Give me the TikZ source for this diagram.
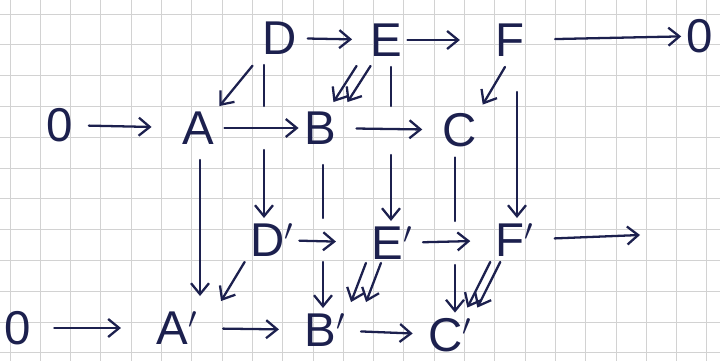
\documentclass[tikz,border=0pt]{standalone}
\usepackage{fontspec}
\setmainfont{Liberation Sans}
\usepackage{xcolor}
\usetikzlibrary{arrows.meta, positioning, calc}
\definecolor{ink}{RGB}{28,32,78}

\begin{document}
\begin{tikzpicture}[
    x=0.02cm, y=-0.02cm,
    obj/.style={text=ink, font=\fontsize{27}{29}\selectfont, inner sep=3pt},
    arr/.style={draw=ink, line width=1.3pt, line cap=round, -{Straight Barb[length=2.2mm, width=3.6mm]}},
    seg/.style={draw=ink, line width=1.3pt, line cap=round},
    gridline/.style={draw=gray!35, line width=0.5pt},
  ]
    % Squared paper
    \useasboundingbox (0,0) rectangle (720,361);
    \fill[white] (0,0) rectangle (720,361);
    \foreach \k in {0,...,23}
      \draw[gridline] ({10+30.3*\k},0) -- ({10+30.3*\k},361);
    \foreach \k in {0,...,11}
      \draw[gridline] (0,{14+30.8*\k}) -- (720,{14+30.8*\k});

    % Back row, top
    \node[obj] (D) at (280,38) {D};
    \node[obj] (E) at (386,40) {E};
    \node[obj] (F) at (510,40) {F};
    \node[obj] (z1) at (700,36) {0};
    \draw[arr, shorten <=0.1cm, shorten >=0.25cm] (D) -- (E);
    \draw[arr, shorten >=0.6cm] (E) -- (F);
    \draw[arr, shorten <=0.5cm] (F) -- (z1);

    % Front row, top
    \node[obj] (z2) at (60,125) {0};
    \node[obj] (A) at (198,128) {A};
    \node[obj] (B) at (320,128) {B};
    \node[obj] (C) at (460,130) {C};
    \draw[arr, shorten <=0.2cm, shorten >=0.5cm] (z2) -- (A);
    \draw[arr, shorten <=0.1cm] (A) -- (B);
    \draw[arr, shorten <=0.3cm, shorten >=0.3cm] (B) -- (C);

    % Back row, bottom
    \node[obj] (Dp) at (272,240) {D$'$};
    \node[obj] (Ep) at (392,243) {E$'$};
    \node[obj] (Fp) at (515,240) {F$'$};
    \coordinate (free) at (640,235);
    \draw[arr, shorten >=0.6cm] (Dp) -- (Ep);
    \draw[arr, shorten <=0.1cm, shorten >=0.4cm] (Ep) -- (Fp);
    \draw[arr, shorten <=0.3cm] (Fp) -- (free);

    % Front row, bottom
    \node[obj] (z3) at (18,328) {0};
    \node[obj] (Ap) at (177,328) {A$'$};
    \node[obj] (Bp) at (325,330) {B$'$};
    \node[obj] (Cp) at (450,335) {C$'$};
    \draw[arr, shorten <=0.35cm, shorten >=0.6cm] (z3) -- (Ap);
    \draw[arr, shorten <=0.4cm, shorten >=0.4cm] (Ap) -- (Bp);
    \draw[arr, shorten <=0.2cm, shorten >=0.2cm] (Bp) -- (Cp);

    % Back verticals, broken where they pass behind
    \coordinate (d) at ($(D.south)+(-16,0)$);
    \draw[seg, shorten <=0.1cm] (d) -- (d |- A.north);
    \draw[arr] (d |- A.south) -- (d |- Dp.north);
    \coordinate (e) at ($(E.south)+(5,0)$);
    \draw[seg, shorten <=0.1cm] (e) -- (e |- B.north);
    \draw[arr, shorten <=0.1cm] (e |- B.south) -- (e |- Ep.north);
    \coordinate (f) at ($(F.south)+(7,0)$);
    \draw[arr, shorten <=0.6cm] (f) -- (f |- Fp.north);

    % Front verticals
    \coordinate (a) at ($(A.south)+(2,0)$);
    \draw[arr, shorten <=0.2cm, shorten >=0.2cm] (a) -- (a |- Ap.north);
    \coordinate (b) at ($(B.south)+(3,0)$);
    \draw[seg, shorten <=0.3cm] (b) -- (b |- Dp.north);
    \draw[arr] (b |- Dp.south) -- (b |- Bp.north);
    \coordinate (c) at ($(C.south)+(-5,0)$);
    \draw[seg, shorten <=0.1cm] (c) -- (c |- Ep.north);
    \draw[arr] (c |- Ep.south) -- (c |- Cp.north);

    % Diagonals, back to front
    \draw[arr, shorten <=0.15cm] (D.south west) -- (A.north east);
    \foreach \dx in {-8,6}
      \draw[arr] ($(E.south west)+(\dx,4)$) -- ($(B.north east)+(\dx,-4)$);
    \draw[arr] ($(F.south)+(-5,5)$) -- ($(C.north east)+(0,-3)$);
    \draw[arr] ($(Dp.south west)$) -- ($(Ap.north east)+(18,-5)$);
    \foreach \dx in {0,15}
      \draw[arr] ($(Ep.south west)+(\dx,-2)$) -- ($(Bp.north east)+(\dx,-6)$);
    \foreach \dx in {0,10}
      \draw[arr] ($(Fp.south west)+(\dx,0)$) -- ($(Cp.north east)+(\dx-10,-5)$);
  \end{tikzpicture}
\end{document}
